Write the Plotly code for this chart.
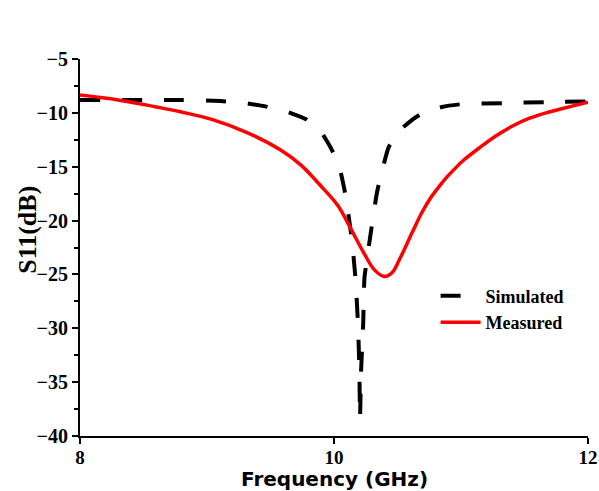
import plotly.graph_objects as go

# Frequency sweep (GHz) and return loss S11 (dB)
sim_freq = [8.0, 8.5, 8.81, 9.11, 9.3, 9.46, 9.62, 9.78, 9.9, 9.99, 10.05, 10.09,
            10.14, 10.17, 10.19, 10.20, 10.205, 10.213, 10.23, 10.24, 10.29,
            10.34, 10.43, 10.53, 10.62, 10.7, 10.85, 11.0, 11.33, 11.67, 12.0]
sim_s11 = [-8.8, -8.8, -8.8, -8.9, -9.1, -9.4, -9.85, -10.6, -11.8, -13.6, -15.4, -17.6,
           -21.7, -25.5, -29.9, -34.0, -38.4, -34.0, -29.5, -25.3, -21.1,
           -17.3, -13.2, -11.5, -10.6, -10.0, -9.45, -9.2, -9.1, -9.0, -8.95]

meas_freq = [8.0, 8.3, 8.6, 8.79, 9.05, 9.32, 9.58, 9.74, 9.89, 10.03, 10.13, 10.23,
             10.32, 10.40, 10.46, 10.52, 10.62, 10.69, 10.76, 10.83, 10.89, 10.95,
             11.02, 11.15, 11.28, 11.41, 11.54, 11.67, 11.80, 11.9, 12.0]
meas_s11 = [-8.35, -8.8, -9.45, -9.9, -10.65, -11.85, -13.45, -14.85, -16.7, -18.6, -20.7, -22.9,
            -24.6, -25.2, -24.8, -23.5, -21.0, -19.3, -17.9, -16.8, -15.95, -15.2,
            -14.4, -13.2, -12.1, -11.2, -10.5, -10.0, -9.6, -9.3, -9.0]

x_ticks = [8, 10, 12]
y_ticks = [-5, -10, -15, -20, -25, -30, -35, -40]


def serif_bold(size):
    return dict(family="Liberation Serif", size=size, color="black", weight="bold")


fig = go.Figure()
fig.add_trace(go.Scatter(
    x=sim_freq, y=sim_s11, mode="lines", name="Simulated",
    line=dict(color="black", width=4, dash="20px,22px", shape="spline", smoothing=0.4),
))
fig.add_trace(go.Scatter(
    x=meas_freq, y=meas_s11, mode="lines", name="Measured",
    line=dict(color="#ff0000", width=3.5, shape="spline", smoothing=1.0),
))

axis_common = dict(
    showline=True, linecolor="black", linewidth=2, mirror=False,
    ticks="outside", tickwidth=2, tickcolor="black", ticklen=6,
    showgrid=False, zeroline=False, automargin=False,
)

fig.update_xaxes(
    range=[8, 12], tickvals=x_ticks, ticktext=[str(v) for v in x_ticks],
    tickfont=serif_bold(19), ticklabelstandoff=-3,
    **axis_common,
)
fig.update_yaxes(
    range=[-40, -5], tickvals=y_ticks, tickfont=serif_bold(20),
    minor=dict(dtick=2.5, ticks="outside", ticklen=4, tickwidth=2, tickcolor="black", tick0=-40),
    **axis_common,
)

# Axis titles placed as paper-anchored text
fig.add_annotation(
    text="Frequency (GHz)", showarrow=False,
    xref="paper", yref="paper", x=0.5, y=-0.114, xanchor="center", yanchor="middle",
    font=dict(family="DejaVu Sans", size=20, color="black", weight="bold"),
)
fig.add_annotation(
    text="S11(dB)", textangle=-90, showarrow=False,
    xref="paper", yref="paper", x=-0.105, y=0.546, xanchor="center", yanchor="middle",
    font=serif_bold(26),
)

fig.update_layout(
    width=599, height=491,
    margin=dict(l=79.5, r=11, t=59, b=55),
    plot_bgcolor="white", paper_bgcolor="white",
    showlegend=True,
    legend=dict(x=0.7, y=0.42, xanchor="left", yanchor="top",
                bgcolor="rgba(0,0,0,0)", font=serif_bold(18),
                tracegroupgap=0, itemwidth=40),
)

fig.write_html("out.html")
